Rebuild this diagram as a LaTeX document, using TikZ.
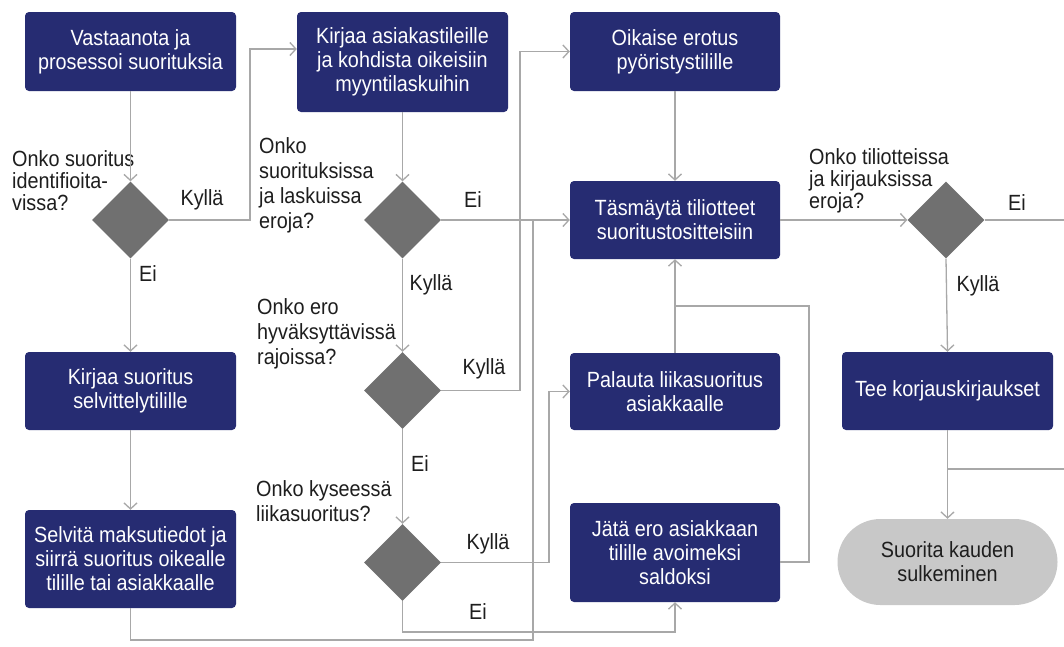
\documentclass[tikz,border=0pt]{standalone}
\usepackage{fontspec}
\setmainfont{Liberation Sans}[FakeStretch=0.9]
\usetikzlibrary{shapes.geometric,arrows.meta,calc}
\definecolor{navy}{RGB}{38,44,114}
\definecolor{dgray}{RGB}{112,112,112}
\definecolor{lgray}{RGB}{168,168,168}
\definecolor{tgray}{RGB}{200,200,200}
\definecolor{ink}{RGB}{30,30,30}
\begin{document}
\begin{tikzpicture}[x=1pt,y=-1pt,
  box/.style={fill=navy, rounded corners=4pt, text=white, align=center, inner sep=0pt, font=\fontsize{22}{24}\selectfont},
  term/.style={fill=tgray, rounded corners=43pt, text=ink, align=center, inner sep=0pt, font=\fontsize{22}{24}\selectfont},
  dec/.style={diamond, fill=dgray, inner sep=0pt, minimum width=77pt, minimum height=77pt},
  lbl/.style={align=left, inner sep=0pt, anchor=north west, text=ink},
  yn/.style={inner sep=0pt, text=ink, font=\fontsize{22}{24}\selectfont},
  conn/.style={draw=lgray, line width=1.3pt},
  arr/.style={conn, -{Straight Barb[length=6pt,width=13pt]}},
]
\fill[white] (0,0) rectangle (1064,646);
\useasboundingbox (0,0) rectangle (1064,646);

% process boxes
\node[box, minimum width=211pt, minimum height=79pt] (a) at (130.5,51.5) {Vastaanota ja\\prosessoi suorituksia};
\node[box, minimum width=211pt, minimum height=100pt] (b) at (402.5,62) {Kirjaa asiakastileille\\ja kohdista oikeisiin\\myyntilaskuihin};
\node[box, minimum width=210pt, minimum height=79pt] (c) at (675,51.5) {Oikaise erotus\\pyöristystilille};
\node[box, minimum width=210pt, minimum height=78pt] (d) at (675,220) {Täsmäytä tiliotteet\\suoritustositteisiin};
\node[box, minimum width=211pt, minimum height=78pt] (e) at (130.5,391) {Kirjaa suoritus\\selvittelytilille};
\node[box, minimum width=211pt, minimum height=98pt] (f) at (130.5,559) {Selvitä maksutiedot ja\\siirrä suoritus oikealle\\tilille tai asiakkaalle};
\node[box, minimum width=210pt, minimum height=77pt] (g) at (675,391.5) {Palauta liikasuoritus\\asiakkaalle};
\node[box, minimum width=210pt, minimum height=99pt] (h) at (675,552.5) {Jätä ero asiakkaan\\tilille avoimeksi\\saldoksi};
\node[box, minimum width=211pt, minimum height=78pt] (i) at (947.5,391) {Tee korjauskirjaukset};
\node[term, minimum width=220pt, minimum height=86pt] (j) at (947.5,562) {Suorita kauden\\sulkeminen};

% decisions
\node[dec] (d1) at (130.5,220) {};
\node[dec] (d2) at (402.5,220) {};
\node[dec] (d3) at (402.5,390.5) {};
\node[dec] (d4) at (402.5,562.5) {};
\node[dec] (d5) at (946,220) {};

% question labels
\node[lbl, font=\fontsize{22}{22}\selectfont] (q1) at (12,150) {Onko suoritus\\identifioita-\\vissa?};
\node[lbl, font=\fontsize{22}{25}\selectfont] (q2) at (259,137) {Onko\\suorituksissa\\ja laskuissa\\eroja?};
\node[lbl, font=\fontsize{22}{25}\selectfont] (q3) at (257,298) {Onko ero\\hyväksyttävissä\\rajoissa?};
\node[lbl, font=\fontsize{22}{25}\selectfont] (q4) at (256,480) {Onko kyseessä\\liikasuoritus?};
\node[lbl, font=\fontsize{22}{22}\selectfont] (q5) at (809,148) {Onko tiliotteissa\\ja kirjauksissa\\eroja?};

% yes / no labels
\node[yn] (y1) at (202,200) {Kyllä};
\node[yn] (n1) at (148,274) {Ei};
\node[yn] (n2) at (473,200) {Ei};
\node[yn] (y2) at (431,285) {Kyllä};
\node[yn] (y3) at (484,369) {Kyllä};
\node[yn] (n3) at (420,464) {Ei};
\node[yn] (y4) at (488,544) {Kyllä};
\node[yn] (n4) at (478,612) {Ei};
\node[yn] (n5) at (1017,203) {Ei};
\node[yn] (y5) at (978,286) {Kyllä};

% bend points
\coordinate (k1) at (250,49);
\coordinate (k2) at (520,390.5);
\coordinate (k3) at (549,562.5);
\coordinate (k4) at (402.5,632);
\coordinate (k5) at (130.5,640);
\coordinate (k6) at (533,220);
\coordinate (k7) at (809,562);
\coordinate (k8) at (809,306);
\coordinate (k9) at (1064,220);
\coordinate (k10) at (1064,469);

% connectors
\draw[arr] (a.south) -- (d1.north);
\draw[arr] (d1.east) -| (k1) -- (k1 -| b.west);
\draw[arr] (d1.south) -- (e.north);
\draw[arr] (e.south) -- (f.north);
\draw[conn] (f.south) -- (k5) -| (k6);
\draw[arr] (b.south) -- (d2.north);
\draw[arr] (d2.east) -- (d.west);
\draw[arr] (d2.south) -- (d3.north);
\draw[arr] (d3.east) -- (k2) |- (c.west);
\draw[arr] (d3.south) -- (d4.north);
\draw[arr] (d4.east) -- (k3) |- (g.west);
\draw[arr] (d4.south) -- (k4) -| (h.south);
\draw[arr] (c.south) -- (d.north);
\draw[arr] (g.north) -- (d.south);
\draw[conn] (h.east |- k7) -- (k7) -- (k8) -- (k8 -| g.north);
\draw[arr] (d.east) -- (d5.west);
\draw[conn] (d5.east) -- (k9);
\draw[arr] (d5.south) -- (i.north);
\draw[arr] (i.south) -- (j.north);
\draw[conn] (k10) -- (k10 -| i.south);
\end{tikzpicture}
\end{document}
